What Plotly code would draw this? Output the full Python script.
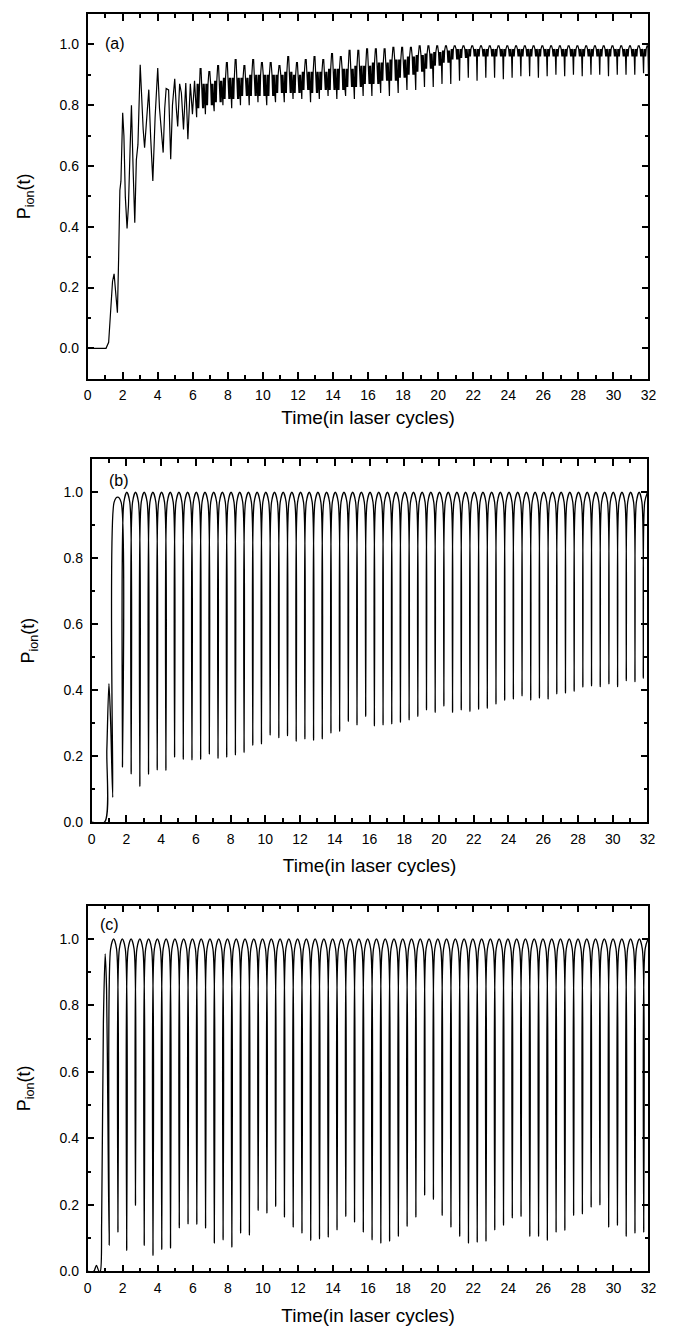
import plotly.graph_objects as go

# ---------------- data ----------------
# Panel (a): irregular onset, listed point by point
a_early_t = [0.0, 1.05, 1.2, 1.32, 1.42, 1.51, 1.6, 1.70, 1.77, 1.84, 1.9, 2.0, 2.07, 2.15, 2.25,
             2.33, 2.42, 2.5, 2.6, 2.69, 2.78, 2.87, 3.0, 3.1, 3.17, 3.25, 3.35, 3.49, 3.6, 3.72,
             3.85, 4.0, 4.1, 4.18, 4.31, 4.4, 4.48, 4.62, 4.74, 4.84, 4.97, 5.06, 5.14, 5.25, 5.35,
             5.47, 5.6, 5.72, 5.86, 5.98, 6.1]
a_early_v = [0.0, 0.0, 0.02, 0.12, 0.22, 0.245, 0.19, 0.117, 0.3, 0.52, 0.55, 0.775, 0.7, 0.5, 0.394,
             0.47, 0.65, 0.80, 0.58, 0.413, 0.62, 0.67, 0.933, 0.8, 0.72, 0.66, 0.73, 0.851, 0.69, 0.551,
             0.76, 0.922, 0.79, 0.73, 0.644, 0.79, 0.855, 0.85, 0.622, 0.80, 0.887, 0.79, 0.73, 0.87, 0.84,
             0.72, 0.873, 0.688, 0.87, 0.77, 0.88]
# Panel (a): half-cycle structure after t ~ 6 (dip time, dip minimum, band low, band high, peak)
a_dip_t = [6.22, 6.72, 7.22, 7.72, 8.22, 8.72, 9.22, 9.72, 10.22, 10.72, 11.22, 11.72, 12.22, 12.72,
           13.22, 13.72, 14.22, 14.72, 15.22, 15.72, 16.22, 16.72, 17.22, 17.72, 18.22, 18.72, 19.22,
           19.72, 20.22, 20.72, 21.22, 21.72, 22.22, 22.72, 23.22, 23.72, 24.22, 24.72, 25.22, 25.72,
           26.22, 26.72, 27.22, 27.72, 28.22, 28.72, 29.22, 29.72, 30.22, 30.72, 31.22, 31.72]
a_dip_lo = [0.76, 0.77, 0.78, 0.80, 0.79, 0.80, 0.80, 0.81, 0.80, 0.81,
            0.81, 0.82, 0.82, 0.81, 0.82, 0.83, 0.82, 0.83, 0.82, 0.83,
            0.83, 0.84, 0.83, 0.84, 0.85, 0.85, 0.86, 0.86, 0.87, 0.87,
            0.88, 0.89, 0.88, 0.89, 0.89, 0.885, 0.89, 0.895, 0.895, 0.89,
            0.895, 0.90, 0.895, 0.90, 0.895, 0.90, 0.90, 0.895, 0.90, 0.90,
            0.90, 0.905]
a_band_lo = [0.79, 0.80, 0.81, 0.82, 0.82, 0.83, 0.83, 0.83, 0.83, 0.84,
             0.84, 0.84, 0.85, 0.84, 0.85, 0.85, 0.85, 0.86, 0.86, 0.87,
             0.87, 0.88, 0.88, 0.89, 0.90, 0.91, 0.92, 0.93, 0.94, 0.95,
             0.955, 0.96, 0.96, 0.96, 0.96, 0.96, 0.96, 0.96, 0.96, 0.96,
             0.96, 0.96, 0.96, 0.96, 0.96, 0.96, 0.96, 0.96, 0.96, 0.96,
             0.96, 0.96]
a_band_hi = [0.87, 0.87, 0.88, 0.89, 0.89, 0.89, 0.90, 0.90, 0.90, 0.90,
             0.91, 0.90, 0.91, 0.91, 0.91, 0.92, 0.92, 0.92, 0.93, 0.93,
             0.94, 0.94, 0.95, 0.95, 0.96, 0.965, 0.97, 0.975, 0.98, 0.985,
             0.985, 0.985, 0.985, 0.985, 0.985, 0.985, 0.985, 0.985, 0.985, 0.985,
             0.985, 0.985, 0.985, 0.985, 0.985, 0.985, 0.985, 0.985, 0.985, 0.985,
             0.985, 0.985]
a_peak = [0.92, 0.91, 0.93, 0.94, 0.95, 0.93, 0.95, 0.94, 0.94, 0.93,
          0.96, 0.94, 0.95, 0.96, 0.95, 0.97, 0.96, 0.98, 0.98, 0.985,
          0.985, 0.985, 0.99, 0.99, 0.99, 0.995, 0.995, 0.995, 0.995, 0.995,
          0.995, 0.995, 0.995, 0.995, 0.995, 0.995, 0.995, 0.995, 0.995, 0.995,
          0.995, 0.995, 0.995, 0.995, 0.995, 0.995, 0.995, 0.995, 0.995, 0.995,
          0.995, 0.995]
a_end_t = [31.97, 32.0]
a_end_v = [0.995, 0.90]

# Panel (b)
b_early_t = [0.0, 0.75, 0.88, 1.0, 1.1]
b_early_v = [0.0, 0.0, 0.22, 0.42, 0.30]
b_dip_t = [1.22, 1.78, 2.28, 2.78, 3.28, 3.78, 4.28, 4.78, 5.28, 5.78, 6.28, 6.78, 7.28, 7.78,
           8.28, 8.78, 9.28, 9.78, 10.28, 10.78, 11.28, 11.78, 12.28, 12.78, 13.28, 13.78, 14.28,
           14.78, 15.28, 15.78, 16.28, 16.78, 17.28, 17.78, 18.28, 18.78, 19.28, 19.78, 20.28,
           20.78, 21.28, 21.78, 22.28, 22.78, 23.28, 23.78, 24.28, 24.78, 25.28, 25.78, 26.28,
           26.78, 27.28, 27.78, 28.28, 28.78, 29.28, 29.78, 30.28, 30.78, 31.28, 31.76]
b_dip_min = [0.075, 0.167, 0.146, 0.108, 0.145, 0.158, 0.157, 0.197, 0.19, 0.189,
             0.19, 0.206, 0.193, 0.197, 0.204, 0.211, 0.233, 0.237, 0.264, 0.256,
             0.262, 0.245, 0.252, 0.248, 0.252, 0.27, 0.275,
             0.305, 0.295, 0.32, 0.292, 0.295, 0.298, 0.302, 0.31, 0.32, 0.34,
             0.332, 0.352, 0.332, 0.34, 0.335, 0.342, 0.345, 0.358, 0.369, 0.373,
             0.383, 0.37, 0.376, 0.373, 0.389, 0.391, 0.396, 0.409, 0.413, 0.411,
             0.419, 0.411, 0.429, 0.426, 0.436]
b_arch_top = [0.985] + [1.0] * 61
b_shoulder = 0.97

# Panel (c)
c_early_t = [0.0, 0.35, 0.5, 0.65, 0.72, 0.8, 0.9, 1.0, 1.08, 1.15]
c_early_v = [0.0, 0.0, 0.018, 0.0, 0.0, 0.15, 0.75, 0.955, 0.85, 0.50]
c_dip_t = [1.23, 1.73, 2.23, 2.73, 3.23, 3.73, 4.23, 4.73, 5.23, 5.73, 6.23, 6.73, 7.23, 7.73,
           8.23, 8.73, 9.23, 9.73, 10.23, 10.73, 11.23, 11.73, 12.23, 12.73, 13.23, 13.73, 14.23,
           14.73, 15.23, 15.73, 16.23, 16.73, 17.23, 17.73, 18.23, 18.73, 19.23, 19.73, 20.23,
           20.73, 21.23, 21.73, 22.23, 22.73, 23.23, 23.73, 24.23, 24.73, 25.23, 25.73, 26.23,
           26.73, 27.23, 27.73, 28.23, 28.73, 29.23, 29.73, 30.23, 30.73, 31.23, 31.73]
c_dip_min = [0.078, 0.118, 0.063, 0.198, 0.078, 0.048, 0.066, 0.07, 0.131, 0.143,
             0.141, 0.130, 0.085, 0.095, 0.073, 0.115, 0.109, 0.183, 0.175, 0.195,
             0.163, 0.133, 0.115, 0.093, 0.098, 0.103, 0.125,
             0.165, 0.148, 0.118, 0.095, 0.085, 0.091, 0.105, 0.135, 0.163, 0.229,
             0.216, 0.168, 0.133, 0.105, 0.085, 0.088, 0.091, 0.125, 0.138, 0.161,
             0.165, 0.105, 0.105, 0.093, 0.118, 0.123, 0.168, 0.173, 0.193, 0.2,
             0.133, 0.138, 0.105, 0.115, 0.118]
c_arch_top = [1.0] * 62
c_shoulder = 0.97

x_ticks = list(range(0, 33, 2))
panel_labels = ["(a)", "(b)", "(c)"]
x_title = "Time(in laser cycles)"
y_title = "P<sub>ion</sub>(t)"

# ---------------- build curves ----------------
def build_a():
    ts, vs = list(a_early_t), list(a_early_v)
    # within each half cycle: dip, fast band oscillation, one tall peak, band again
    offs = [0.0, 0.03, 0.06, 0.09, 0.12, 0.15, 0.20, 0.25, 0.30, 0.34, 0.37, 0.40, 0.43, 0.47]
    for td, lo, bl, bh, pk in zip(a_dip_t, a_dip_lo, a_band_lo, a_band_hi, a_peak):
        vals = [lo, bh, bl, bh, bl, bh, pk, pk, bh, bl, bh, bl, bh, bl]
        for o, v in zip(offs, vals):
            if td + o < a_end_t[0]:
                ts.append(td + o)
                vs.append(v)
    ts += a_end_t
    vs += a_end_v
    return ts, vs


def build_dips(early_t, early_v, dip_t, dip_min, arch_top, shoulder, sh_dt=0.08):
    ts, vs = list(early_t), list(early_v)
    n = len(dip_t)
    for i in range(n):
        td = dip_t[i]
        if i > 0:
            ts.append(td - sh_dt); vs.append(shoulder)
        ts.append(td); vs.append(dip_min[i])
        ts.append(td + sh_dt); vs.append(shoulder)
        if i < n - 1:
            tc = (td + dip_t[i + 1]) / 2
        else:
            tc = td + (td - dip_t[i - 1]) / 2
        ts.append(tc); vs.append(arch_top[i])
    return ts, vs


curves = [
    (build_a(), "linear", 1.2),
    (build_dips(b_early_t, b_early_v, b_dip_t, b_dip_min, b_arch_top, b_shoulder), "spline", 1.3),
    (build_dips(c_early_t, c_early_v, c_dip_t, c_dip_min, c_arch_top, c_shoulder), "spline", 1.3),
]

# ---------------- layout geometry (pixels of the 674 x 1330 page) ----------------
W, H = 674, 1330
FONT = "Liberation Sans, Arial, Helvetica, sans-serif"
panels = [
    dict(x0=77, x1=648, y0=6, y1=373, yr=[-0.1, 1.1], lab=(104.5, 35.5), xst=8),
    dict(x0=81, x1=647, y0=454, y1=819, yr=[0.0, 1.1], lab=(109, 475), xst=13),
    dict(x0=77, x1=648, y0=903, y1=1271, yr=[0.0, 1.1], lab=(99, 922), xst=14),
]

fig = go.Figure()
annotations = []
for i, (p, ((ts, vs), shape, lw)) in enumerate(zip(panels, curves)):
    n = "" if i == 0 else str(i + 1)
    line = dict(color="black", width=lw, shape=shape)
    if shape == "spline":
        line["smoothing"] = 0.8
    fig.add_trace(go.Scatter(x=ts, y=vs, mode="lines", xaxis="x" + n, yaxis="y" + n,
                             line=line, showlegend=False, hoverinfo="skip"))
    common = dict(showline=True, linecolor="black", linewidth=1.6, mirror="ticks",
                  ticks="inside", tickcolor="black", tickwidth=1.5, ticklen=7,
                  showgrid=False, zeroline=False,
                  tickfont=dict(family=FONT, size=14, color="black"))
    fig.layout["xaxis" + n] = dict(
        common, domain=[p["x0"] / W, p["x1"] / W], anchor="y" + n, range=[0, 32],
        tickmode="array", tickvals=x_ticks, ticktext=[str(v) for v in x_ticks],
        ticklabelstandoff=3,
        title=dict(text=x_title, standoff=p["xst"], font=dict(family=FONT, size=19, color="black")),
        minor=dict(ticks="inside", ticklen=4, dtick=1, tick0=0, tickcolor="black", tickwidth=1.5))
    fig.layout["yaxis" + n] = dict(
        common, domain=[1 - p["y1"] / H, 1 - p["y0"] / H], anchor="x" + n, range=p["yr"],
        tick0=0, dtick=0.2, tickformat=".1f", ticklabelstandoff=4,
        title=dict(text=y_title, standoff=24, font=dict(family=FONT, size=18, color="black")),
        minor=dict(ticks="inside", ticklen=4, dtick=0.1, tick0=0, tickcolor="black", tickwidth=1.5))
    annotations.append(dict(text=panel_labels[i], xref="paper", yref="paper",
                            x=p["lab"][0] / W, y=1 - p["lab"][1] / H, showarrow=False,
                            xanchor="center", yanchor="middle",
                            font=dict(family=FONT, size=16, color="black")))

fig.update_layout(width=W, height=H, margin=dict(l=0, r=0, t=0, b=0),
                  paper_bgcolor="white", plot_bgcolor="white", annotations=annotations)
fig.write_html("out.html")
